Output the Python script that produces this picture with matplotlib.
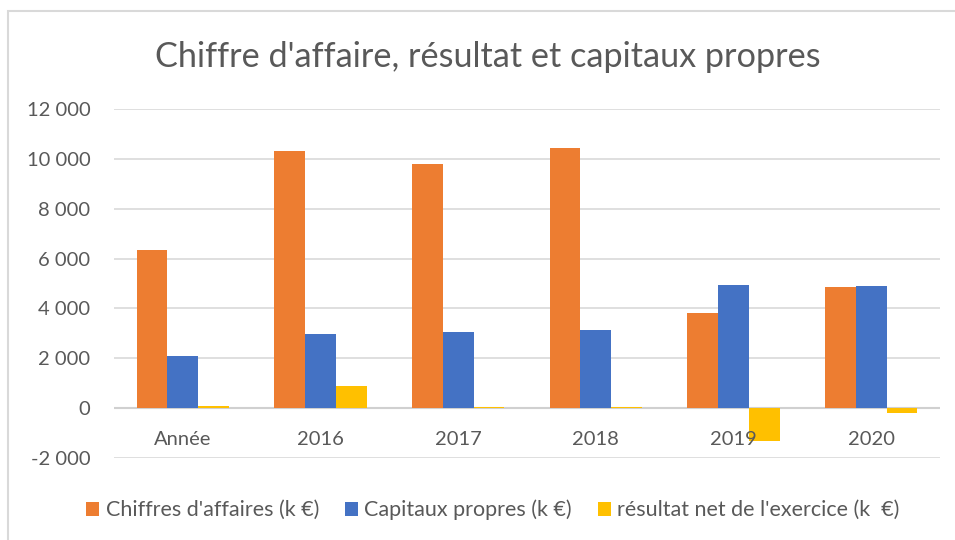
import matplotlib.pyplot as plt
import numpy as np
from matplotlib.patches import Rectangle
from matplotlib.ticker import FuncFormatter

categories = ['Année', '2016', '2017', '2018', '2019', '2020']
chiffreAffaires = [6350, 10330, 9800, 10420, 3800, 4840]
capitauxPropres = [2080, 2980, 3060, 3120, 4920, 4880]
resultatNet = [70, 880, 30, 40, -1300, -180]
seriesLabels = ["Chiffres d'affaires (k €)", "Capitaux propres (k €)", "résultat net de l'exercice (k  €)"]
seriesColors = ['#ED7D31', '#4472C4', '#FFC000']
title = "Chiffre d'affaire, résultat et capitaux propres"

textColor = '#595959'
gridColor = '#D9D9D9'


def main():
    plt.rcParams['font.family'] = ['Lato', 'DejaVu Sans']
    fig = plt.figure(figsize=(9.55, 5.4), dpi=100)
    W, H = 955.0, 540.0

    # chart frame (left and top edges visible, rest runs off the image)
    fig.patches.append(Rectangle((8 / W, -0.1), 1.2, (540 - 11) / H + 0.1,
                                 transform=fig.transFigure, fill=False,
                                 edgecolor=gridColor, linewidth=1.5))

    ax = fig.add_axes([114 / W, 1 - 458 / H, (940 - 114) / W, (458 - 109) / H])

    x = np.arange(len(categories))
    width = 0.223
    allSeries = [chiffreAffaires, capitauxPropres, resultatNet]
    for i, (vals, label, color) in enumerate(zip(allSeries, seriesLabels, seriesColors)):
        ax.bar(x + (i - 1) * width, vals, width, label=label, color=color, zorder=3)

    ax.set_xlim(-0.5, len(categories) - 0.5)
    ax.set_ylim(-2000, 12000)
    ax.set_yticks(np.arange(-2000, 12001, 2000))
    ax.yaxis.set_major_formatter(FuncFormatter(lambda v, p: '{:,.0f}'.format(v).replace(',', ' ')))
    ax.grid(axis='y', color=gridColor, linewidth=1.2, zorder=0)
    ax.axhline(0, color='#D0D0D0', linewidth=1.5, zorder=2)
    for s in ax.spines.values():
        s.set_visible(False)
    ax.tick_params(axis='both', length=0, labelsize=14.5, colors=textColor)
    ax.tick_params(axis='y', pad=17)

    # category labels sit just under the zero line
    ax.set_xticks([])
    for xi, cat in zip(x, categories):
        ax.text(xi, -1270, cat, ha='center', va='center', fontsize=14.5, color=textColor, zorder=4)

    fig.text(487.5 / W, 1 - 57 / H, title, ha='center', va='center', fontsize=24.7, color=textColor)

    fig.legend(loc='center', bbox_to_anchor=(493 / W, 1 - 510 / H), ncol=3, frameon=False,
               fontsize=15.5, labelcolor=textColor, handlelength=0.6, handleheight=0.6,
               handletextpad=0.3, columnspacing=1.2)

    fig.savefig('out.png', dpi=100)


if __name__ == '__main__':
    main()
